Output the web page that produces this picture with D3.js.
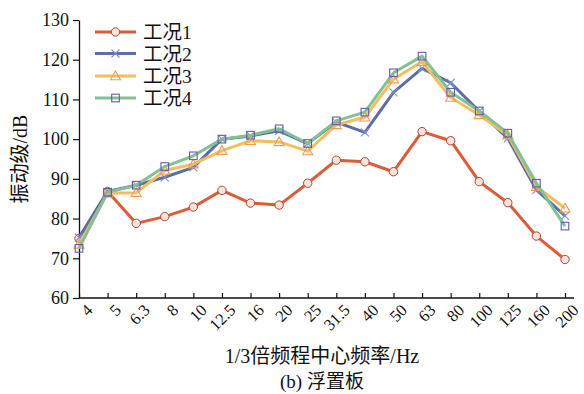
<!DOCTYPE html>
<html>
<head>
<meta charset="utf-8">
<script src="https://cdn.jsdelivr.net/npm/d3@7"></script>
<style>
  html, body { margin: 0; padding: 0; background: #fff; }
  svg { display: block; }
  text { font-family: "Liberation Serif", "Noto Sans CJK SC", serif; fill: #111; }
</style>
</head>
<body>
<svg id="chart" width="584" height="394"></svg>
<script>
// 1/3 octave band centre frequencies (Hz)
const categories = ["4","5","6.3","8","10","12.5","16","20","25","31.5","40","50","63","80","100","125","160","200"];

// Vibration level (dB) for each operating condition
const case1 = [75.0, 86.8, 78.8, 80.5, 82.9, 87.1, 83.9, 83.4, 88.9, 94.7, 94.3, 91.8, 101.9, 99.6, 89.3, 84.0, 75.6, 69.7];
const case2 = [75.2, 86.8, 88.4, 90.4, 92.9, 100.0, 100.8, 102.1, 98.9, 104.3, 101.7, 111.8, 117.8, 114.2, 107.0, 100.2, 87.2, 80.7];
const case3 = [73.5, 86.4, 86.5, 92.1, 93.7, 97.1, 99.6, 99.3, 97.0, 103.6, 105.5, 115.1, 119.5, 110.5, 106.1, 101.0, 88.0, 82.6];
const case4 = [72.5, 86.6, 88.4, 93.1, 95.8, 100.0, 101.0, 102.6, 98.9, 104.6, 106.8, 116.7, 120.9, 111.8, 107.1, 101.5, 88.9, 78.1];

const seriesNames = ["工况1", "工况2", "工况3", "工况4"];
const yTicks = [60, 70, 80, 90, 100, 110, 120, 130];

const series = [
  { name: seriesNames[0], values: case1, line: "#de5b37", marker: "circle", mStroke: "#a8463c", mFill: "#fbe3da" },
  { name: seriesNames[1], values: case2, line: "#5b6ea8", marker: "cross",  mStroke: "#7a90d6", mFill: "none" },
  { name: seriesNames[2], values: case3, line: "#f2be62", marker: "triangle", mStroke: "#f39a52", mFill: "none" },
  { name: seriesNames[3], values: case4, line: "#82c096", marker: "square", mStroke: "#6a58a8", mFill: "none" }
];

const svg = d3.select("#chart");
const plotLeft = 79, plotRight = 565, plotTop = 20, plotBottom = 298;

const x = d3.scalePoint().domain(categories).range([plotLeft, plotRight]);
const y = d3.scaleLinear().domain([60, 130]).range([plotBottom, plotTop]);

// Y axis (ticks outward)
const yAxis = svg.append("g").attr("transform", `translate(${plotLeft},0)`)
  .call(d3.axisLeft(y).tickValues(yTicks).tickSize(6).tickPadding(4).tickSizeOuter(0));
yAxis.select(".domain").attr("stroke", "#111").attr("stroke-width", 1.3);
yAxis.selectAll(".tick line").attr("stroke", "#111").attr("stroke-width", 1.2);
yAxis.selectAll(".tick text").style("font-size", "18px").style("font-family", "Liberation Serif, serif").attr("fill", "#111");

// X axis (ticks inward), extends slightly past last band
svg.append("line").attr("x1", plotLeft).attr("x2", 574).attr("y1", plotBottom).attr("y2", plotBottom)
  .attr("stroke", "#111").attr("stroke-width", 1.3);
const xAxis = svg.append("g").attr("transform", `translate(0,${plotBottom})`)
  .call(d3.axisBottom(x).tickSize(-5).tickSizeOuter(0));
xAxis.select(".domain").remove();
xAxis.selectAll(".tick line").attr("stroke", "#111").attr("stroke-width", 1.2);
xAxis.selectAll(".tick text")
  .style("font-size", "16.5px").style("font-family", "Liberation Serif, serif").attr("fill", "#111")
  .attr("text-anchor", "end")
  .attr("x", 0).attr("y", 0).attr("dy", "0.35em")
  .attr("transform", "translate(10,9) rotate(-45)");

// Axis titles
svg.append("text").attr("transform", `translate(27,${159}) rotate(-90)`)
  .attr("text-anchor", "middle").style("font-size", "20px").text("振动级/dB");
svg.append("text").attr("x", 322).attr("y", 363).attr("text-anchor", "middle")
  .style("font-size", "20px").text("1/3倍频程中心频率/Hz");
svg.append("text").attr("x", 322).attr("y", 388).attr("text-anchor", "middle")
  .style("font-size", "19px").text("(b) 浮置板");

function drawMarker(g, s, cx, cy) {
  if (s.marker === "circle") {
    g.append("circle").attr("cx", cx).attr("cy", cy).attr("r", 4.2)
      .attr("fill", s.mFill).attr("stroke", s.mStroke).attr("stroke-width", 1);
  } else if (s.marker === "cross") {
    const d = 4;
    g.append("path").attr("d", `M${cx-d},${cy-d}L${cx+d},${cy+d}M${cx-d},${cy+d}L${cx+d},${cy-d}`)
      .attr("stroke", s.mStroke).attr("stroke-width", 1.1).attr("fill", "none");
  } else if (s.marker === "triangle") {
    const d = 5;
    g.append("path").attr("d", `M${cx},${cy-d}L${cx+d},${cy+d*0.75}L${cx-d},${cy+d*0.75}Z`)
      .attr("stroke", s.mStroke).attr("stroke-width", 1.1).attr("fill", "none");
  } else {
    const d = 3.8;
    g.append("rect").attr("x", cx-d).attr("y", cy-d).attr("width", 2*d).attr("height", 2*d)
      .attr("stroke", s.mStroke).attr("stroke-width", 1.1).attr("fill", "none");
  }
}

const line = d3.line().x((d, i) => x(categories[i])).y(d => y(d));

// Lines then markers, drawn in series order
series.forEach(s => {
  const g = svg.append("g");
  g.append("path").datum(s.values).attr("d", line)
    .attr("fill", "none").attr("stroke", s.line).attr("stroke-width", 3).attr("stroke-linejoin", "round");
  s.values.forEach((v, i) => drawMarker(g, s, x(categories[i]), y(v)));
});

// Legend
const legendY = [32, 53.5, 76, 98];
series.forEach((s, i) => {
  const g = svg.append("g");
  const ly = legendY[i];
  g.append("line").attr("x1", 95).attr("x2", 136).attr("y1", ly).attr("y2", ly)
    .attr("stroke", s.line).attr("stroke-width", 3);
  drawMarker(g, s, 115.5, ly);
  g.append("text").attr("x", 143).attr("y", ly).attr("dy", "0.36em")
    .style("font-size", "19.5px").text(s.name);
});
</script>
</body>
</html>
